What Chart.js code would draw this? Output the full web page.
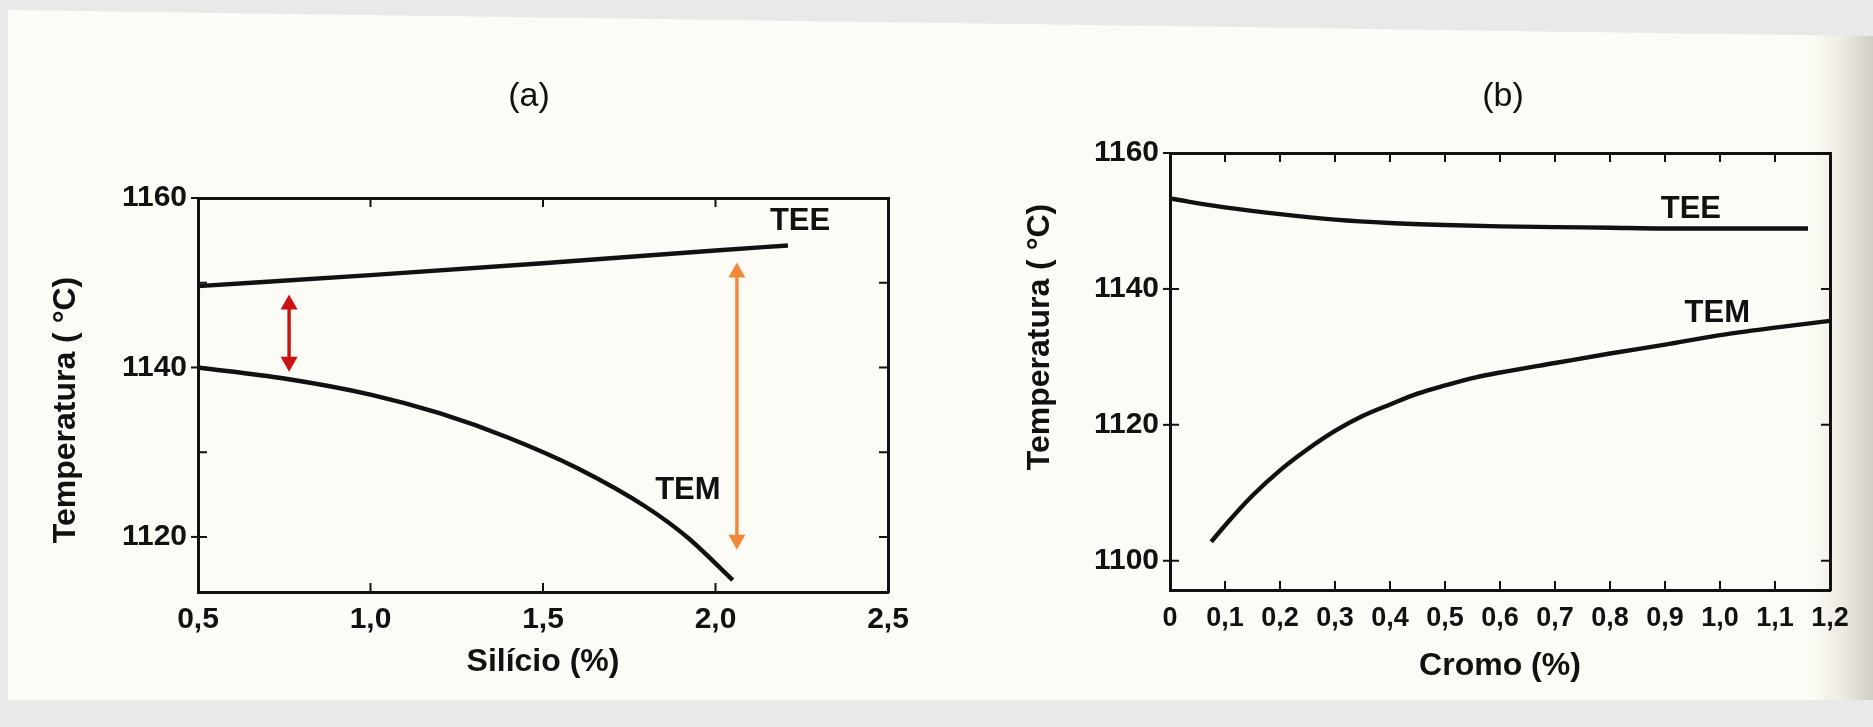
<!DOCTYPE html>
<html><head><meta charset="utf-8">
<script src="https://cdn.jsdelivr.net/npm/chart.js@4.4.1/dist/chart.umd.min.js"></script>
<style>
html,body{margin:0;padding:0;width:1873px;height:727px;overflow:hidden;background:#e9e9e7;}
#paper{position:absolute;left:0;top:0;width:1873px;height:727px;
 background:linear-gradient(to right,#fcfbf5 0,#fcfbf5 1812px,#eeeae1 1842px,#d3cec5 1873px);
 clip-path:polygon(8px 10px,1873px 36px,1873px 700px,8px 700px);}
#wa{position:absolute;left:0;top:0;width:940px;height:727px;}
#wb{position:absolute;left:940px;top:0;width:933px;height:727px;}
</style></head>
<body>
<div id="paper"></div>
<div id="wa"><canvas id="ca"></canvas></div>
<div id="wb"><canvas id="cb"></canvas></div>
<script>
// ---- Data: panel (a) Silício ----
const siX_TEE = [0.5, 1.0, 1.5, 2.0, 2.21];
const siTEE   = [1149.6, 1150.9, 1152.3, 1153.8, 1154.4];
const siX_TEM = [0.5, 0.75, 1.0, 1.2, 1.4, 1.6, 1.8, 1.92, 2.05];
const siTEM   = [1140.0, 1138.7, 1136.8, 1134.6, 1131.7, 1128.1, 1123.5, 1119.9, 1114.9];
const siYLabels = [1120, 1140, 1160];
// ---- Data: panel (b) Cromo ----
const crX_TEE = [0, 0.1, 0.2, 0.3, 0.4, 0.5, 0.6, 0.7, 0.8, 0.9, 1.0, 1.1, 1.16];
const crTEE   = [1153.3, 1152.0, 1151.0, 1150.2, 1149.7, 1149.4, 1149.2, 1149.1, 1149.0, 1148.9, 1148.9, 1148.9, 1148.9];
const crX_TEM = [0.075, 0.1, 0.15, 0.2, 0.25, 0.3, 0.35, 0.4, 0.45, 0.5, 0.556, 0.6, 0.7, 0.8, 0.9, 1.0, 1.1, 1.2];
const crTEM   = [1102.8, 1105.2, 1109.6, 1113.3, 1116.4, 1119.1, 1121.3, 1123.0, 1124.6, 1125.8, 1127.0, 1127.7, 1129.1, 1130.5, 1131.8, 1133.2, 1134.3, 1135.3];
const crYLabels = [1100, 1120, 1140, 1160];
// ---- Annotation arrows (panel a) ----
const arrowRed    = {x: 0.764, from: 1148.6, to: 1139.5};
const arrowOrange = {x: 2.062, from: 1152.4, to: 1118.5};

const FONT = "'Liberation Sans', Arial, sans-serif";
const INK = '#111111';
const pts = (xs, ys) => xs.map((v, i) => ({x: v, y: ys[i]}));
const comma = v => (Math.abs(v) < 1e-9 ? '0' : v.toFixed(1).replace('.', ','));

const deco = {
  id: 'deco',
  afterDatasetsDraw(chart, args, o) {
    const {ctx, chartArea: ca, scales: {x, y}} = chart;
    ctx.save();
    ctx.strokeStyle = INK; ctx.lineWidth = 2;
    x.ticks.forEach(t => {
      if (t.value <= x.min + 1e-9 || t.value >= x.max - 1e-9) return;
      const px = x.getPixelForValue(t.value);
      ctx.beginPath();
      ctx.moveTo(px, ca.bottom); ctx.lineTo(px, ca.bottom - o.tick);
      ctx.moveTo(px, ca.top); ctx.lineTo(px, ca.top + o.tick);
      ctx.stroke();
    });
    y.ticks.forEach(t => {
      if (t.value <= y.min + 1e-9 || t.value >= y.max - 1e-9) return;
      const py = y.getPixelForValue(t.value);
      ctx.beginPath();
      ctx.moveTo(ca.left, py); ctx.lineTo(ca.left + o.tick, py);
      ctx.moveTo(ca.right, py); ctx.lineTo(ca.right - o.tick, py);
      ctx.stroke();
    });
    o.yLabels.forEach(v => {
      const py = y.getPixelForValue(v);
      ctx.beginPath(); ctx.moveTo(ca.left - 7, py); ctx.lineTo(ca.left, py); ctx.stroke();
    });
    (o.arrows || []).forEach(a => {
      const px = x.getPixelForValue(a.x);
      const p1 = y.getPixelForValue(a.from), p2 = y.getPixelForValue(a.to);
      const h = 15, w = 8.5;
      ctx.strokeStyle = a.color; ctx.fillStyle = a.color; ctx.lineWidth = 3.4;
      ctx.beginPath(); ctx.moveTo(px, p1 + h - 2); ctx.lineTo(px, p2 - h + 2); ctx.stroke();
      ctx.beginPath(); ctx.moveTo(px, p1); ctx.lineTo(px - w, p1 + h); ctx.lineTo(px + w, p1 + h); ctx.closePath(); ctx.fill();
      ctx.beginPath(); ctx.moveTo(px, p2); ctx.lineTo(px - w, p2 - h); ctx.lineTo(px + w, p2 - h); ctx.closePath(); ctx.fill();
    });
    ctx.fillStyle = INK; ctx.textAlign = 'center'; ctx.textBaseline = 'middle';
    ctx.font = 'bold 31px ' + FONT;
    (o.labels || []).forEach(l => ctx.fillText(l.text, x.getPixelForValue(l.x), y.getPixelForValue(l.y)));
    ctx.font = '34px ' + FONT;
    ctx.fillText(o.panel.text, o.panel.px, o.panel.py);
    ctx.font = 'bold 32px ' + FONT;
    ctx.translate(o.ytitle.px, o.ytitle.py); ctx.rotate(-Math.PI / 2);
    ctx.fillText('Temperatura ( °C)', 0, 0);
    ctx.restore();
  }
};

function makeChart(id, cfg) {
  const lineDs = (data) => ({data, borderColor: INK, borderWidth: 4.4, pointRadius: 0,
    cubicInterpolationMode: 'monotone', fill: false, xAxisID: 'x', yAxisID: 'y'});
  return new Chart(document.getElementById(id), {
    type: 'line',
    data: {datasets: cfg.series.map(lineDs)},
    plugins: [deco],
    options: {
      responsive: true, maintainAspectRatio: false, animation: false,
      layout: {padding: cfg.padding},
      plugins: {legend: {display: false}, tooltip: {enabled: false},
        deco: {tick: 9, yLabels: cfg.yLabels, arrows: cfg.arrows, labels: cfg.labels, panel: cfg.panel, ytitle: cfg.ytitle}},
      scales: {
        x: {type: 'linear', position: 'bottom', min: cfg.xmin, max: cfg.xmax,
          afterFit: s => { s.height = 100; },
          grid: {display: false, drawTicks: false},
          border: {display: true, color: INK, width: 3},
          ticks: {stepSize: cfg.xstep, autoSkip: false, maxRotation: 0, includeBounds: false,
            padding: cfg.xpad, color: INK, font: {family: FONT, weight: 'bold', size: cfg.xfont},
            callback: v => comma(v)},
          title: {display: true, text: cfg.xtitle, color: INK, padding: {top: 0, bottom: cfg.xtitlePad},
            font: {family: FONT, weight: 'bold', size: 32}}},
        xt: {type: 'linear', position: 'top', min: cfg.xmin, max: cfg.xmax,
          afterFit: s => { s.height = 0; },
          grid: {display: false, drawTicks: false}, ticks: {display: false},
          border: {display: true, color: INK, width: 3}},
        y: {type: 'linear', position: 'left', min: cfg.ymin, max: cfg.ymax,
          afterFit: s => { s.width = cfg.yw; },
          grid: {display: false, drawTicks: false},
          border: {display: true, color: INK, width: 3},
          ticks: {stepSize: cfg.ystep, includeBounds: false, padding: 11, color: INK,
            font: {family: FONT, weight: 'bold', size: 30},
            callback: v => (cfg.yLabels.includes(v) ? String(v) : '')}},
        yr: {type: 'linear', position: 'right', min: cfg.ymin, max: cfg.ymax,
          afterFit: s => { s.width = 0; },
          grid: {display: false, drawTicks: false}, ticks: {display: false},
          border: {display: true, color: INK, width: 3}}
      }
    }
  });
}

makeChart('ca', {
  series: [pts(siX_TEE, siTEE), pts(siX_TEM, siTEM)],
  padding: {left: 0, right: 52, top: 198, bottom: 35},
  xmin: 0.5, xmax: 2.5, xstep: 0.5, xpad: 10, xfont: 30, xtitle: 'Silício (%)', xtitlePad: 11,
  ymin: 1113.5, ymax: 1160, ystep: 10, yw: 198, yLabels: siYLabels,
  arrows: [Object.assign({color: '#cc1111'}, arrowRed), Object.assign({color: '#f0873a'}, arrowOrange)],
  labels: [{text: 'TEE', x: 2.245, y: 1157.2}, {text: 'TEM', x: 1.92, y: 1125.5}],
  panel: {text: '(a)', px: 529, py: 97},
  ytitle: {px: 66, py: 410}
});

makeChart('cb', {
  series: [pts(crX_TEE, crTEE), pts(crX_TEM, crTEM)],
  padding: {left: 0, right: 43, top: 153, bottom: 37},
  xmin: 0, xmax: 1.2, xstep: 0.1, xpad: 12, xfont: 27, xtitle: 'Cromo (%)', xtitlePad: 5,
  ymin: 1095.7, ymax: 1160, ystep: 20, yw: 230, yLabels: crYLabels,
  arrows: [],
  labels: [{text: 'TEE', x: 0.947, y: 1151.7}, {text: 'TEM', x: 0.995, y: 1136.4}],
  panel: {text: '(b)', px: 563, py: 97},
  ytitle: {px: 100, py: 337}
});
</script>
</body></html>
